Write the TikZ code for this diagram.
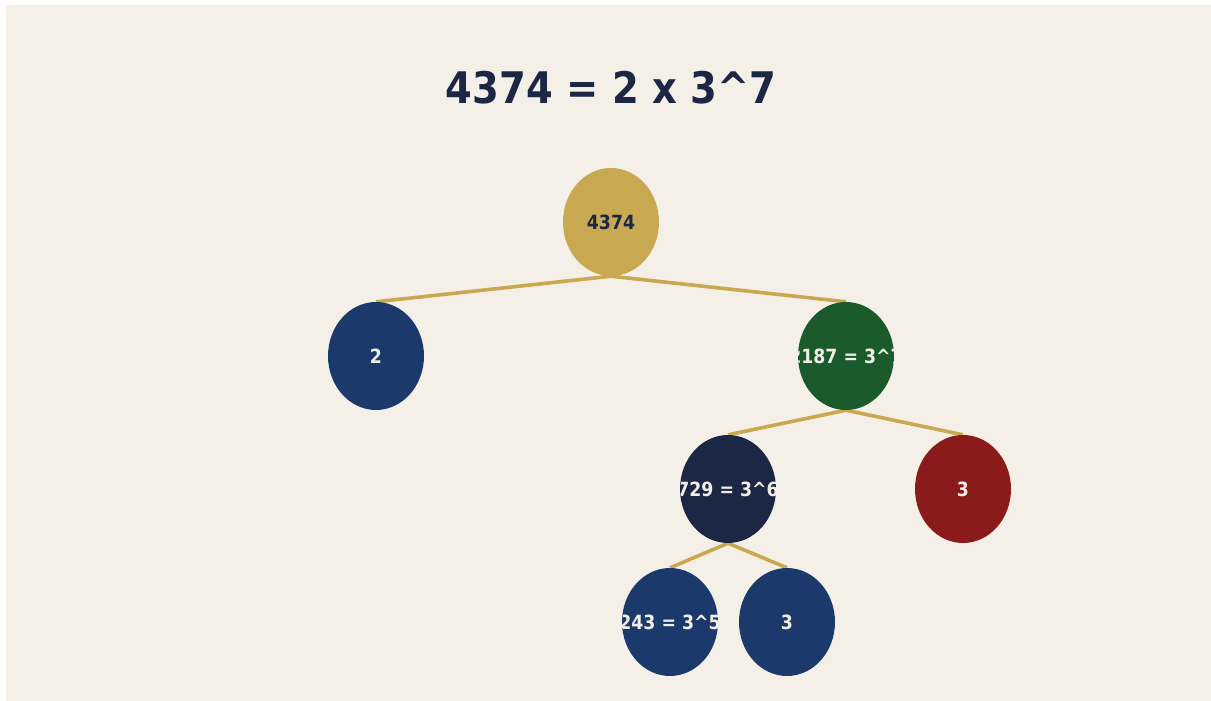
\documentclass[tikz,border=0pt]{standalone}
\usepackage{fontspec}
\setmainfont{DejaVu Sans}[BoldFont={DejaVu Sans Bold}]
\usetikzlibrary{shapes.geometric,backgrounds}
\definecolor{bgcream}{HTML}{F4F0E8}
\definecolor{gold}{HTML}{C8A850}
\definecolor{navy}{HTML}{1B2744}
\definecolor{dblue}{HTML}{1B3A6B}
\definecolor{dgreen}{HTML}{1B5A2A}
\definecolor{dred}{HTML}{8B1A1A}
\definecolor{lighttext}{HTML}{F2EEE6}
\newcommand{\nodetxt}[1]{\scalebox{1}[1.13]{\fontsize{17.3}{20}\selectfont\bfseries #1}}
\tikzset{
  treenode/.style n args={3}{ellipse, minimum width=96pt, minimum height=108pt, inner sep=0pt, fill=#1,
    path picture={\node[text=#2, inner sep=0pt] at (path picture bounding box.center) {\nodetxt{#3}};}},
  edge/.style={draw=gold, line width=3.6pt}
}
\begin{document}
\begin{tikzpicture}[x=1pt,y=-1pt]
\useasboundingbox (0,0) rectangle (1211,701);
\node (title) at (611,88) {\scalebox{1}[1.13]{\fontsize{38.5}{46}\selectfont\bfseries\color{navy}4374 = 2 x 3\textasciicircum 7}};
\node[treenode={gold}{navy}{4374}] (root) at (611,222) {};
\node[treenode={dblue}{lighttext}{2}] (n2) at (376,356) {};
\node[treenode={dgreen}{lighttext}{2187 = 3\textasciicircum 7}] (n2187) at (846,356) {};
\node[treenode={navy}{lighttext}{729 = 3\textasciicircum 6}] (n729) at (728,489) {};
\node[treenode={dred}{lighttext}{3}] (n3a) at (963,489) {};
\node[treenode={dblue}{lighttext}{243 = 3\textasciicircum 5}] (n243) at (670,622) {};
\node[treenode={dblue}{lighttext}{3}] (n3b) at (787,622) {};
\begin{pgfonlayer}{background}
\fill[white] (0,0) rectangle (1211,701);
\fill[bgcream] (6,5) rectangle (1211,701);
\draw[edge] (root.south) -- (n2.north);
\draw[edge] (root.south) -- (n2187.north);
\draw[edge] (n2187.south) -- (n729.north);
\draw[edge] (n2187.south) -- (n3a.north);
\draw[edge] (n729.south) -- (n243.north);
\draw[edge] (n729.south) -- (n3b.north);
\end{pgfonlayer}
\end{tikzpicture}
\end{document}
